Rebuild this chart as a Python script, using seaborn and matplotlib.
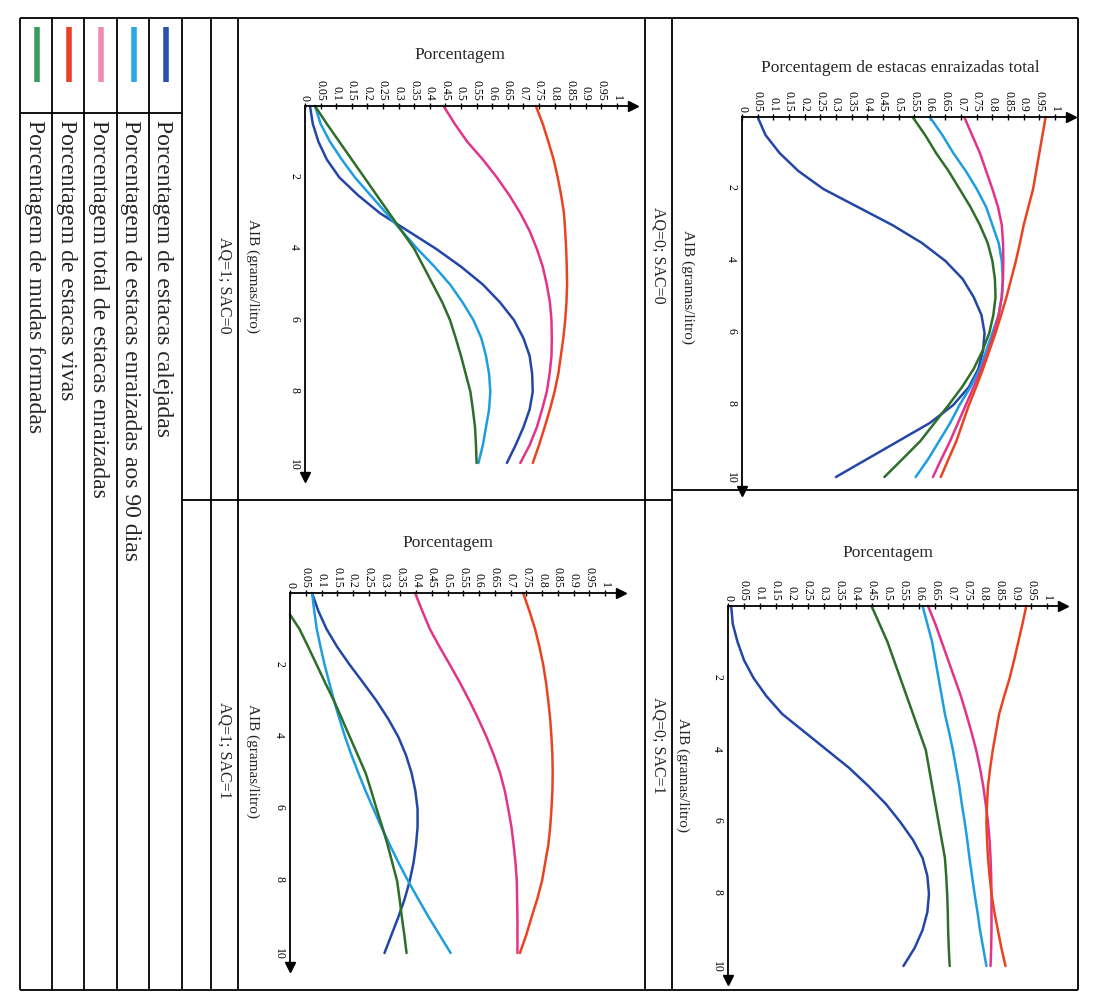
import numpy as np
import pandas as pd
import matplotlib
matplotlib.use("Agg")
import matplotlib.pyplot as plt
import seaborn as sns
from matplotlib.lines import Line2D

# AIB (gramas/litro), leitura a cada 0,5
aib = [0, 0.5, 1, 1.5, 2, 2.5, 3, 3.5, 4, 4.5, 5, 5.5, 6, 6.5, 7, 7.5, 8, 8.5, 9, 9.5, 10]
aib_verde_q1s1 = [0.6, 1, 1.5, 2, 2.5, 3, 3.5, 4, 4.5, 5, 5.5, 6, 6.5, 7, 7.5, 8, 8.5, 9, 9.5, 10]

series = ["Porcentagem de estacas calejadas",
          "Porcentagem de estacas enraizadas aos 90 dias",
          "Porcentagem total de estacas enraizadas",
          "Porcentagem de estacas vivas",
          "Porcentagem de mudas formadas"]
cores = ["#2446a6", "#1e9ee0", "#e2348a", "#ea4320", "#2f6e2a"]
cores_legenda = ["#2a50b0", "#2aa8e8", "#f08cb4", "#e8402a", "#3d9a5f"]

# AQ=0; SAC=0
q0s0_calejadas = [0.05, 0.075, 0.12, 0.18, 0.26, 0.37, 0.48, 0.575, 0.65, 0.705, 0.74,
                  0.765, 0.775, 0.77, 0.755, 0.725, 0.675, 0.60, 0.50, 0.40, 0.30]
q0s0_90dias = [0.60, 0.64, 0.675, 0.715, 0.75, 0.78, 0.80, 0.82, 0.83, 0.833, 0.83,
               0.82, 0.80, 0.78, 0.76, 0.73, 0.695, 0.665, 0.63, 0.595, 0.555]
q0s0_total = [0.71, 0.735, 0.76, 0.78, 0.80, 0.818, 0.83, 0.834, 0.835, 0.834, 0.83,
              0.82, 0.805, 0.787, 0.765, 0.74, 0.715, 0.69, 0.665, 0.637, 0.61]
q0s0_vivas = [0.97, 0.96, 0.95, 0.94, 0.93, 0.915, 0.90, 0.888, 0.875, 0.86, 0.845,
              0.828, 0.81, 0.79, 0.77, 0.748, 0.725, 0.705, 0.685, 0.66, 0.635]
q0s0_mudas = [0.545, 0.585, 0.62, 0.66, 0.695, 0.73, 0.76, 0.785, 0.80, 0.808, 0.81,
              0.803, 0.79, 0.768, 0.74, 0.703, 0.66, 0.615, 0.57, 0.513, 0.455]

# AQ=0; SAC=1
q0s1_calejadas = [0.01, 0.015, 0.03, 0.05, 0.08, 0.12, 0.17, 0.24, 0.31, 0.38, 0.44,
                  0.495, 0.54, 0.58, 0.61, 0.625, 0.63, 0.625, 0.61, 0.585, 0.55]
q0s1_90dias = [0.61, 0.625, 0.64, 0.65, 0.66, 0.67, 0.68, 0.693, 0.705, 0.715, 0.725,
               0.733, 0.742, 0.75, 0.757, 0.765, 0.773, 0.782, 0.79, 0.80, 0.81]
q0s1_total = [0.627, 0.65, 0.67, 0.69, 0.71, 0.73, 0.747, 0.763, 0.778, 0.79, 0.80,
              0.808, 0.815, 0.82, 0.823, 0.825, 0.826, 0.826, 0.826, 0.825, 0.823]
q0s1_vivas = [0.935, 0.923, 0.91, 0.897, 0.883, 0.866, 0.85, 0.84, 0.83, 0.822, 0.815,
              0.812, 0.81, 0.812, 0.815, 0.82, 0.826, 0.835, 0.846, 0.857, 0.87]
q0s1_mudas = [0.45, 0.475, 0.50, 0.52, 0.54, 0.56, 0.58, 0.60, 0.62, 0.63, 0.64,
              0.65, 0.66, 0.67, 0.68, 0.684, 0.687, 0.689, 0.69, 0.692, 0.695]

# AQ=1; SAC=0
q1s0_calejadas = [0.016, 0.025, 0.043, 0.07, 0.11, 0.17, 0.24, 0.33, 0.42, 0.50, 0.57,
                  0.625, 0.67, 0.70, 0.72, 0.728, 0.73, 0.72, 0.70, 0.675, 0.647]
q1s0_90dias = [0.032, 0.05, 0.08, 0.118, 0.16, 0.21, 0.26, 0.31, 0.36, 0.415, 0.465,
               0.505, 0.54, 0.565, 0.58, 0.59, 0.594, 0.59, 0.58, 0.57, 0.556]
q1s0_total = [0.444, 0.48, 0.52, 0.57, 0.615, 0.655, 0.69, 0.72, 0.743, 0.762, 0.775,
              0.785, 0.79, 0.791, 0.79, 0.784, 0.775, 0.76, 0.743, 0.72, 0.69]
q1s0_vivas = [0.74, 0.762, 0.78, 0.797, 0.81, 0.821, 0.83, 0.834, 0.837, 0.839, 0.84,
              0.838, 0.834, 0.828, 0.82, 0.812, 0.80, 0.785, 0.768, 0.75, 0.73]
q1s0_mudas = [0.032, 0.07, 0.11, 0.15, 0.19, 0.23, 0.27, 0.31, 0.35, 0.38, 0.41,
              0.44, 0.465, 0.483, 0.50, 0.515, 0.53, 0.538, 0.545, 0.548, 0.55]

# AQ=1; SAC=1
q1s1_calejadas = [0.07, 0.09, 0.116, 0.15, 0.19, 0.233, 0.275, 0.312, 0.344, 0.368, 0.386,
                  0.398, 0.405, 0.405, 0.40, 0.392, 0.38, 0.364, 0.344, 0.322, 0.30]
q1s1_90dias = [0.07, 0.077, 0.085, 0.097, 0.11, 0.125, 0.14, 0.157, 0.175, 0.195, 0.217,
               0.24, 0.265, 0.29, 0.317, 0.345, 0.375, 0.407, 0.44, 0.475, 0.51]
q1s1_total = [0.397, 0.42, 0.444, 0.475, 0.508, 0.54, 0.57, 0.598, 0.624, 0.647, 0.667,
              0.682, 0.693, 0.703, 0.71, 0.716, 0.72, 0.721, 0.722, 0.722, 0.722]
q1s1_vivas = [0.74, 0.76, 0.778, 0.792, 0.804, 0.813, 0.82, 0.826, 0.83, 0.833, 0.834,
              0.833, 0.83, 0.826, 0.82, 0.81, 0.80, 0.785, 0.767, 0.75, 0.73]
q1s1_mudas = [0.0, 0.03, 0.058, 0.085, 0.112, 0.14, 0.165, 0.19, 0.215, 0.24,
              0.258, 0.275, 0.293, 0.31, 0.325, 0.34, 0.348, 0.355, 0.363, 0.37]

W, H = 1100, 1007
FONT = ["Liberation Serif", "DejaVu Serif"]


def fx(x):
    return x / W


def fy(y):
    return 1 - y / H


def montar(valores, aib_listas):
    partes = []
    for nome, v, a in zip(series, valores, aib_listas):
        partes.append(pd.DataFrame({"AIB": a, "pct": v, "serie": nome}))
    return pd.concat(partes, ignore_index=True)


def painel(fig, df, x0, x1, y0, y10):
    """Cria um eixo girado: porcentagem na horizontal, AIB para baixo."""
    sx = x1 - x0
    sy = (y10 - y0) / 10
    xmin, xmax = -0.1, 1.1
    ymin, ymax = -0.8, 10.8
    left = x0 + xmin * sx
    right = x0 + xmax * sx
    top = y0 + ymin * sy
    bottom = y0 + ymax * sy
    ax = fig.add_axes([fx(left), fy(bottom), fx(right - left), (bottom - top) / H])
    ax.set_facecolor("none")

    sns.lineplot(data=df, x="pct", y="AIB", hue="serie", palette=dict(zip(series, cores)),
                 estimator=None, sort=False, lw=1.8, legend=False, ax=ax)

    ax.set_xlim(xmin, xmax)
    ax.set_ylim(ymax, ymin)
    for s in ["bottom", "right"]:
        ax.spines[s].set_visible(False)
    for s in ["top", "left"]:
        ax.spines[s].set_position(("data", 0))
        ax.spines[s].set_color("black")
        ax.spines[s].set_linewidth(1.3)
    ax.spines["top"].set_bounds(0, 1.05)
    ax.spines["left"].set_bounds(0, 10.4)
    ax.plot([1.05], [0], marker=">", ms=7, color="black", clip_on=False)
    ax.plot([0], [10.4], marker="v", ms=7, color="black", clip_on=False)

    xt = np.round(np.arange(0, 1.0001, 0.05), 2)
    ax.xaxis.tick_top()
    ax.set_xticks(xt)
    ax.set_xticklabels([f"{v:g}" for v in xt])
    ax.set_yticks([2, 4, 6, 8, 10])
    ax.set_yticks(range(0, 11), minor=True)
    ax.set_yticklabels(["2", "4", "6", "8", "10"])
    ax.tick_params(axis="x", which="both", direction="inout", length=5, width=1,
                   labelsize=8.5, labelrotation=-90, pad=1, colors="black")
    ax.tick_params(axis="y", which="both", direction="inout", length=5, width=1,
                   labelsize=8.5, labelrotation=-90, pad=1, colors="black")
    ax.set_xlabel("")
    ax.set_ylabel("")
    return ax


sns.set_theme(style="white")
plt.rcParams["font.family"] = FONT

fig = plt.figure(figsize=(W / 100, H / 100), dpi=100)

paineis = [
    ([q0s0_calejadas, q0s0_90dias, q0s0_total, q0s0_vivas, q0s0_mudas], [aib] * 5,
     (742, 1055, 117, 477)),
    ([q0s1_calejadas, q0s1_90dias, q0s1_total, q0s1_vivas, q0s1_mudas], [aib] * 5,
     (728, 1047, 606, 966)),
    ([q1s0_calejadas, q1s0_90dias, q1s0_total, q1s0_vivas, q1s0_mudas], [aib] * 5,
     (305, 617, 106, 463)),
    ([q1s1_calejadas, q1s1_90dias, q1s1_total, q1s1_vivas, q1s1_mudas], [aib] * 4 + [aib_verde_q1s1],
     (290, 605, 593, 953)),
]
for valores, aibs, geo in paineis:
    painel(fig, montar(valores, aibs), *geo)

# titulos e rotulos dos eixos
titulos = [("Porcentagem de estacas enraizadas total", 900, 68),
           ("Porcentagem", 888, 553),
           ("Porcentagem", 460, 55),
           ("Porcentagem", 448, 543)]
for t, x, y in titulos:
    fig.text(fx(x), fy(y), t, ha="center", va="center", fontsize=12.5)

for x, y in [(688, 287), (683, 775), (253, 276), (253, 761)]:
    fig.text(fx(x), fy(y), "AIB (gramas/litro)", ha="center", va="center",
             rotation=-90, fontsize=11)

for t, x, y in [("AQ=0; SAC=0", 658, 255), ("AQ=0; SAC=1", 658, 745),
                ("AQ=1; SAC=0", 225, 285), ("AQ=1; SAC=1", 225, 750)]:
    fig.text(fx(x), fy(y), t, ha="center", va="center", rotation=-90, fontsize=11.5)


# linhas da tabela
def linha(xs, ys, lw=1.3, cor="black"):
    fig.add_artist(Line2D([fx(v) for v in xs], [fy(v) for v in ys], color=cor, lw=lw,
                          solid_capstyle="butt"))


TOP, BOT, LEFT, RIGHT = 18, 990, 20, 1078
linha([LEFT, RIGHT], [TOP, TOP])
linha([LEFT, RIGHT], [BOT, BOT])
for x in [LEFT, 52, 84, 117, 149, 182, 211, 238, 645, 672, RIGHT]:
    linha([x, x], [TOP, BOT])
linha([LEFT, 182], [113, 113])
linha([182, 672], [500, 500])
linha([672, RIGHT], [490, 490])

# legenda
centros = [166, 134, 101, 69, 37]
for nome, cor, cx in zip(series, cores_legenda, centros):
    linha([cx, cx], [27, 82], lw=4, cor=cor)
    fig.text(fx(cx - 3), fy(120), nome, ha="left", va="center", rotation=-90,
             rotation_mode="anchor", fontsize=17)

fig.savefig("out.png", dpi=100, facecolor="white")
